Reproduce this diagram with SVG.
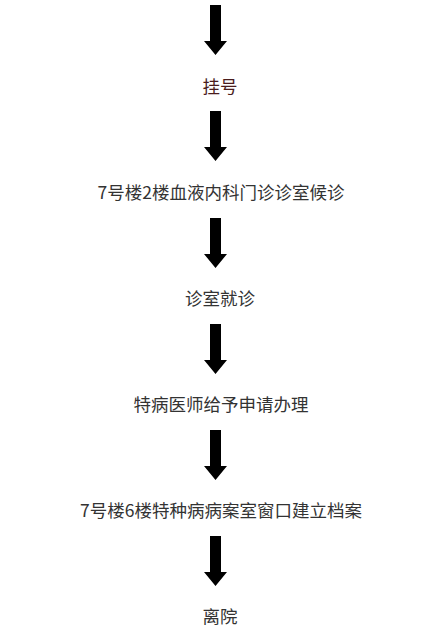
<svg xmlns="http://www.w3.org/2000/svg" width="445" height="632" viewBox="0 0 445 632">
<defs>
<style>
.t{font-family:"Noto Sans CJK SC","Noto Sans",sans-serif;font-size:17.5px;fill:#333;text-anchor:middle;dominant-baseline:central}
.a{fill:#000}
</style>
<path id="arr" d="M210,0 H221 V36 H227 L215.5,50 L204,36 H210 Z"/>
</defs>
<rect width="445" height="632" fill="#fff"/>
<g id="connectors">
<use href="#arr" class="a" transform="translate(0,5)"/>
<use href="#arr" class="a" transform="translate(0,111)"/>
<use href="#arr" class="a" transform="translate(0,218)"/>
<use href="#arr" class="a" transform="translate(0,324)"/>
<use href="#arr" class="a" transform="translate(0,430)"/>
<use href="#arr" class="a" transform="translate(0,536)"/>
</g>
<g id="n1"><text class="t" x="220" y="85" style="fill:#4a1c1c">挂号</text></g>
<g id="n2"><text class="t" x="221" y="191">7号楼2楼血液内科门诊诊室候诊</text></g>
<g id="n3"><text class="t" x="220" y="297">诊室就诊</text></g>
<g id="n4"><text class="t" x="221" y="403">特病医师给予申请办理</text></g>
<g id="n5"><text class="t" x="221" y="509">7号楼6楼特种病病案室窗口建立档案</text></g>
<g id="n6"><text class="t" x="220" y="615">离院</text></g>
</svg>
